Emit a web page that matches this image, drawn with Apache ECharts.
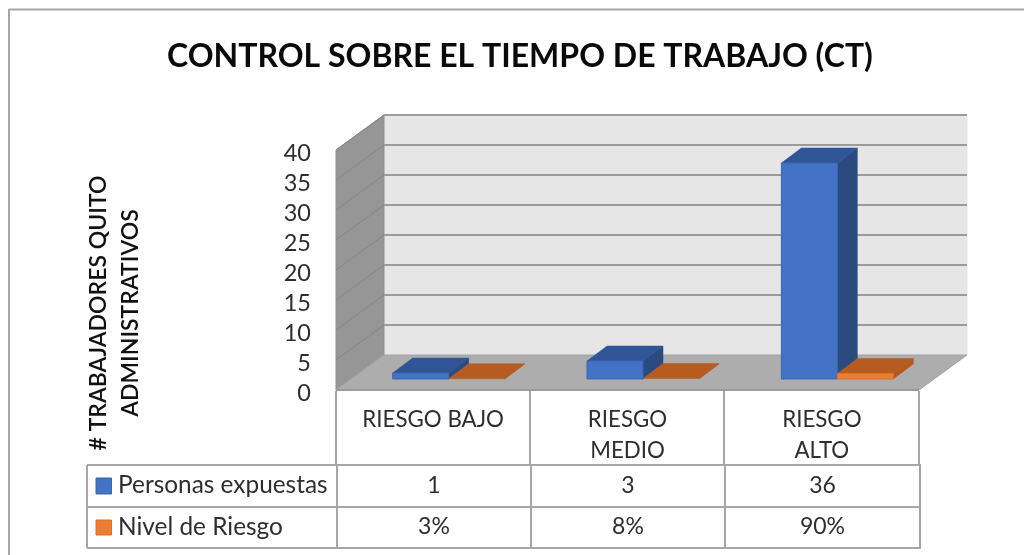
<!DOCTYPE html>
<html>
<head>
<meta charset="utf-8">
<style>html,body{margin:0;padding:0;background:#fff}#c{width:1024px;height:555px}</style>
<script src="https://cdn.jsdelivr.net/npm/echarts@6/dist/echarts.min.js"></script>
</head>
<body>
<div id="c"></div>
<script>
const titleText = 'CONTROL SOBRE EL TIEMPO DE TRABAJO (CT)';
const yTitleLines = '# TRABAJADORES QUITO\nADMINISTRATIVOS';
const categories = ['RIESGO BAJO', 'RIESGO\nMEDIO', 'RIESGO\nALTO'];
const personasLabel = 'Personas expuestas';
const nivelLabel = 'Nivel de Riesgo';
const personasExpuestas = [1, 3, 36];
const nivelRiesgo = [0.03, 0.08, 0.90];
const yTicks = [0, 5, 10, 15, 20, 25, 30, 35, 40];

const FONT = 'Lato';
const TXT = '#2e2e2e';
const LINE = '#a6a6a6';

// projection of the fake 3D box
const WALL = [48, -35];
const BAR_NEAR = [15, -11];
const BAR_DEPTH = [20, -15];

function poly(points, fill, stroke, lw) {
  return { type: 'polygon', shape: { points }, style: { fill, stroke: stroke || fill, lineWidth: lw === undefined ? 1 : lw } };
}
function wallItem(params, api) {
  const v = api.value(0);
  const a = api.coord([0, v]);
  const b = api.coord([categories.length - 1, v]);
  const band = api.size([1, 0])[0];
  const x0 = a[0] - band / 2, x1 = b[0] + band / 2, y = a[1];
  const children = [];
  if (params.dataIndex === 0) {
    const top = api.coord([0, yTicks[yTicks.length - 1]])[1];
    children.push(poly([[x0 + WALL[0], top + WALL[1]], [x1 + WALL[0], top + WALL[1]], [x1 + WALL[0], y + WALL[1]], [x0 + WALL[0], y + WALL[1]]], '#e6e6e6', '#e6e6e6'));
    children.push(poly([[x0, top], [x0 + WALL[0], top + WALL[1]], [x0 + WALL[0], y + WALL[1]], [x0, y]], '#969696', '#8f8f8f'));
    children.push(poly([[x0, y], [x0 + WALL[0], y + WALL[1]], [x1 + WALL[0], y + WALL[1]], [x1, y]], '#adadad', '#a3a3a3'));
    children.push({ type: 'line', shape: { x1: x0, y1: y, x2: x1, y2: y }, style: { stroke: '#9a9a9a', lineWidth: 2 } });
  } else {
    children.push({ type: 'line', shape: { x1: x0, y1: y, x2: x0 + WALL[0], y2: y + WALL[1] }, style: { stroke: '#858585', lineWidth: 1 } });
    children.push({ type: 'line', shape: { x1: x0 + WALL[0], y1: y + WALL[1], x2: x1 + WALL[0], y2: y + WALL[1] }, style: { stroke: '#9b9b9b', lineWidth: 2 } });
  }
  return { type: 'group', children };
}
function barItem(offsetIndex, front, frontEdge, topC, side) {
  return function (params, api) {
    const base = api.coord([api.value(0), 0]);
    const head = api.coord([api.value(0), api.value(1)]);
    const w = api.size([1, 0])[0] * 0.288;
    const xl = base[0] + BAR_NEAR[0] + (offsetIndex - 1) * w + 0.5;
    const xr = xl + w;
    const yb = base[1] + BAR_NEAR[1];
    const yt = head[1] + BAR_NEAR[1];
    const dx = BAR_DEPTH[0], dy = BAR_DEPTH[1];
    const children = [
      poly([[xr, yt], [xr + dx, yt + dy], [xr + dx, yb + dy], [xr, yb]], side, side, 0.5),
      poly([[xl, yt], [xl + dx, yt + dy], [xr + dx, yt + dy], [xr, yt]], topC, topC, 0.5)
    ];
    if (yb - yt > 1) children.push(poly([[xl, yt], [xr, yt], [xr, yb], [xl, yb]], front, frontEdge, 1));
    return { type: 'group', children };
  };
}

// data table layout
const catCols = [336, 530, 724, 919];
const tblCols = [87, 337, 531, 725, 920];
const tblRows = [465, 507, 548];
const graphics = [];
function hline(x1, x2, y) { graphics.push({ type: 'line', silent: true, shape: { x1, y1: y, x2, y2: y }, style: { stroke: LINE, lineWidth: 2 } }); }
function vline(x, y1, y2) { graphics.push({ type: 'line', silent: true, shape: { x1: x, y1, x2: x, y2 }, style: { stroke: LINE, lineWidth: 2 } }); }
function text(t, x, y, align, size) {
  graphics.push({ type: 'text', silent: true, x, y, style: { text: t, fill: TXT, font: size + 'px ' + FONT, textAlign: align, textVerticalAlign: 'middle' } });
}
// outer frame
hline(9, 1024, 9.5);
vline(9, 9, 555);
catCols.forEach(x => vline(x, 391, 465));
tblCols.forEach(x => vline(x, 465, 548));
tblRows.forEach(y => hline(87, 921, y));
// legend keys
graphics.push({ type: 'rect', silent: true, shape: { x: 96, y: 478, width: 15.5, height: 16 }, style: { fill: '#4472c4', stroke: '#3b66b0', lineWidth: 1 } });
graphics.push({ type: 'rect', silent: true, shape: { x: 96, y: 520, width: 15.5, height: 15 }, style: { fill: '#ed7d31', stroke: '#d9712c', lineWidth: 1 } });
text(personasLabel, 118, 485, 'left', 24.4);
text(nivelLabel, 118, 527, 'left', 24.4);
personasExpuestas.forEach((v, i) => text(String(v), (tblCols[i + 1] + tblCols[i + 2]) / 2, 486, 'center', 23));
nivelRiesgo.forEach((v, i) => text(Math.round(v * 100) + '%', (tblCols[i + 1] + tblCols[i + 2]) / 2, 527, 'center', 23));
// axis title
yTitleLines.split('\n').forEach((t, i) => {
  graphics.push({ type: 'text', silent: true, x: i === 0 ? 99 : 131, y: 313, rotation: Math.PI / 2,
    style: { text: t, fill: '#111', font: '600 23px ' + FONT, textAlign: 'center', textVerticalAlign: 'middle' } });
});

const chart = echarts.init(document.getElementById('c'), null, { renderer: 'canvas' });
chart.setOption({
  animation: false,
  backgroundColor: '#fff',
  title: { text: titleText, left: 515, top: 36, textAlign: 'center',
    textStyle: { fontFamily: FONT, fontSize: 32, fontWeight: 'bold', color: '#0a0a0a' } },
  grid: { left: 336, right: 105, top: 150, bottom: 165, containLabel: false },
  xAxis: { type: 'category', data: categories, axisLine: { show: false }, axisTick: { show: false }, splitLine: { show: false },
    axisLabel: { fontFamily: FONT, fontSize: 22.3, color: TXT, margin: 14, lineHeight: 31, interval: 0, verticalAlign: 'top' } },
  yAxis: { type: 'value', min: 0, max: 40, interval: 5, axisLine: { show: false }, axisTick: { show: false }, splitLine: { show: false },
    axisLabel: { fontFamily: FONT, fontSize: 23.5, color: TXT, margin: 25, verticalAlign: 'top', lineHeight: 6 } },
  graphic: graphics,
  series: [
    { type: 'custom', name: 'walls', silent: true, clip: false, data: yTicks.map(t => [t]), encode: { y: 0 }, renderItem: wallItem, z: 1 },
    { type: 'custom', name: personasLabel, silent: true, clip: false, data: personasExpuestas.map((v, i) => [i, v]), encode: { x: 0, y: 1 },
      renderItem: barItem(0, '#4472c4', '#3b66b0', '#2f5597', '#2a4a80'), z: 2 },
    { type: 'custom', name: nivelLabel, silent: true, clip: false, data: nivelRiesgo.map((v, i) => [i, v]), encode: { x: 0, y: 1 },
      renderItem: barItem(1, '#ed7d31', '#d9712c', '#b55d20', '#b4581f'), z: 3 }
  ]
});
</script>
</body>
</html>
